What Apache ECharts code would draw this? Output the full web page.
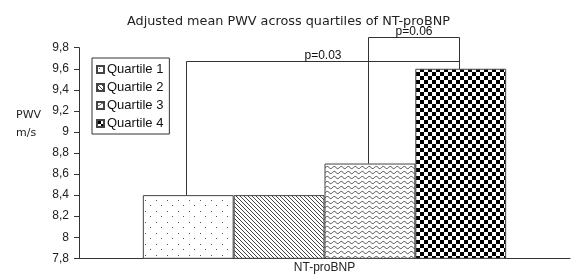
<!DOCTYPE html>
<html>
<head>
<meta charset="utf-8">
<script src="https://cdn.jsdelivr.net/npm/echarts@6/dist/echarts.min.js"></script>
<style>
  html, body { margin: 0; padding: 0; background: #fff; }
  #chart { width: 574px; height: 280px; }
</style>
</head>
<body>
<div id="chart"></div>
<script>
// 数据
const categories = ['NT-proBNP']
const quartileNames = ['Quartile 1', 'Quartile 2', 'Quartile 3', 'Quartile 4']
const quartileValues = [8.4, 8.4, 8.7, 9.6]

// y 轴刻度
const yMin = 7.8
const yMax = 9.8
const yStep = 0.2

// 显著性括号
const bracketLabels = ['p=0.03', 'p=0.06']
const bracketFrom = [0, 2]
const bracketTo = [3, 3]
const bracketLevel = [9.67, 9.9]

const CATEGORY_GAP = 0.26
const LINE_COLOR = '#333'

// 生成填充图案
function makePattern(w, h, draw) {
  const c = document.createElement('canvas')
  c.width = w
  c.height = h
  const ctx = c.getContext('2d')
  ctx.fillStyle = '#fff'
  ctx.fillRect(0, 0, w, h)
  draw(ctx)
  return { image: c, repeat: 'repeat' }
}

const patterns = [
  // 点
  makePattern(11, 11, ctx => {
    ctx.fillStyle = '#555'
    ctx.fillRect(2, 2, 1, 1)
    ctx.fillRect(7, 7, 1, 1)
  }),
  // 斜线
  makePattern(4, 4, ctx => {
    ctx.strokeStyle = '#444'
    ctx.lineWidth = 1
    ctx.beginPath()
    ctx.moveTo(-1, -1); ctx.lineTo(5, 5)
    ctx.moveTo(-1, 3); ctx.lineTo(1, 5)
    ctx.moveTo(3, -1); ctx.lineTo(5, 1)
    ctx.stroke()
  }),
  // 波浪线
  makePattern(7, 5, ctx => {
    ctx.strokeStyle = '#444'
    ctx.lineWidth = 1
    ctx.beginPath()
    for (let x = 0; x <= 7; x += 0.5) {
      const y = 2.5 + 1.1 * Math.sin(x / 7 * Math.PI * 2)
      if (x === 0) ctx.moveTo(x, y)
      else ctx.lineTo(x, y)
    }
    ctx.stroke()
  }),
  // 棋盘格
  makePattern(8, 8, ctx => {
    ctx.fillStyle = '#000'
    ctx.fillRect(0, 0, 4, 4)
    ctx.fillRect(4, 4, 4, 4)
  })
]

function fmtTick(v) {
  return String(Math.round(v * 10) / 10).replace('.', ',')
}

const chart = echarts.init(document.getElementById('chart'))

const barSeries = quartileNames.map((name, i) => ({
  name: name,
  type: 'bar',
  data: [quartileValues[i]],
  barGap: '0%',
  barCategoryGap: (CATEGORY_GAP * 100) + '%',
  itemStyle: {
    color: patterns[i],
    borderColor: '#444',
    borderWidth: 1
  },
  emphasis: { disabled: true }
}))

const bracketSeries = {
  type: 'custom',
  clip: false,
  silent: true,
  z: 10,
  data: bracketLabels.map((_, i) => [0, bracketLevel[i]]),
  renderItem(params, api) {
    const i = params.dataIndex
    const center = api.coord([0, bracketLevel[i]])
    const band = api.size([1, 0])[0]
    const group = band * (1 - CATEGORY_GAP)
    const barW = group / quartileValues.length
    const xOf = k => center[0] - group / 2 + (k + 0.5) * barW - 2
    const x1 = Math.round(xOf(bracketFrom[i])) + 0.5
    const x2 = Math.round(xOf(bracketTo[i])) + 0.5
    const yTop = Math.round(center[1]) + 0.5
    const y1 = api.coord([0, quartileValues[bracketFrom[i]]])[1]
    const y2 = api.coord([0, quartileValues[bracketTo[i]]])[1]
    return {
      type: 'group',
      children: [
        {
          type: 'polyline',
          shape: { points: [[x1, y1], [x1, yTop], [x2, yTop], [x2, y2]] },
          style: { stroke: LINE_COLOR, lineWidth: 1, fill: null }
        },
        {
          type: 'text',
          x: (x1 + x2) / 2,
          y: yTop,
          style: {
            text: bracketLabels[i],
            align: 'center',
            verticalAlign: 'bottom',
            font: '12px "Liberation Sans"',
            fill: '#111'
          }
        }
      ]
    }
  }
}

const option = {
  animation: false,
  title: [
    {
      text: 'Adjusted mean PWV across quartiles of NT-proBNP',
      left: 122,
      top: 10,
      textStyle: {
        fontFamily: 'DejaVu Sans',
        fontSize: 12.8,
        fontWeight: 'normal',
        color: '#222'
      }
    },
    {
      text: 'PWV\nm/s',
      left: 11,
      top: 101,
      textStyle: {
        fontFamily: 'DejaVu Sans',
        fontSize: 11,
        fontWeight: 'normal',
        color: '#222',
        lineHeight: 18
      }
    }
  ],
  legend: {
    data: quartileNames,
    orient: 'vertical',
    left: 92,
    top: 58,
    borderColor: LINE_COLOR,
    borderWidth: 1,
    padding: [5, 6, 4, 4],
    itemWidth: 7,
    itemHeight: 7,
    itemGap: 5,
    icon: 'rect',
    selectedMode: false,
    textStyle: {
      fontFamily: 'Liberation Sans',
      fontSize: 13,
      color: '#111',
      padding: [0, 0, 0, -2]
    }
  },
  grid: {
    left: 79,
    right: 4,
    top: 47.7,
    bottom: 21.7,
    containLabel: false
  },
  xAxis: {
    type: 'category',
    data: categories,
    axisLine: { lineStyle: { color: LINE_COLOR } },
    axisTick: { show: false },
    axisLabel: {
      margin: 3,
      fontFamily: 'Liberation Sans',
      fontSize: 12,
      color: '#222'
    }
  },
  yAxis: {
    type: 'value',
    min: yMin,
    max: yMax,
    interval: yStep,
    splitLine: { show: false },
    axisLine: { show: true, lineStyle: { color: LINE_COLOR } },
    axisTick: { show: true, length: 5, lineStyle: { color: LINE_COLOR } },
    axisLabel: {
      margin: 10,
      formatter: fmtTick,
      fontFamily: 'Liberation Sans',
      fontSize: 12,
      color: '#222'
    }
  },
  series: [...barSeries, bracketSeries]
}

chart.setOption(option)

window.addEventListener('resize', () => {
  chart && chart.resize()
})
</script>
</body>
</html>
